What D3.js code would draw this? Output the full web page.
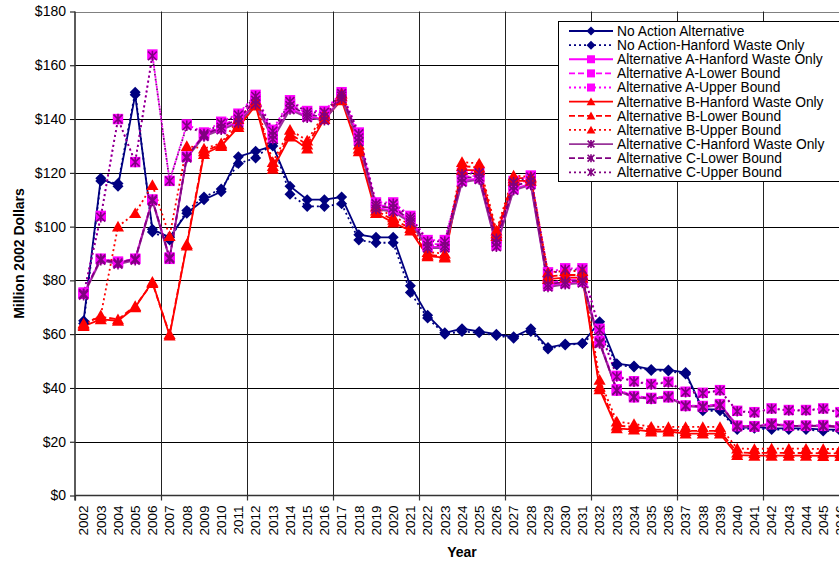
<!DOCTYPE html>
<html>
<head>
<meta charset="utf-8">
<script src="https://cdn.jsdelivr.net/npm/d3@7"></script>
<style>
  body { margin: 0; background: #fff; }
  svg text { font-family: Arial, "Liberation Sans", sans-serif; fill: #000; }
</style>
</head>
<body>
<svg id="chart" width="839" height="561"></svg>
<script>
// Annual cost by alternative, million 2002 dollars
const years = [2002, 2003, 2004, 2005, 2006, 2007, 2008, 2009, 2010, 2011,
  2012, 2013, 2014, 2015, 2016, 2017, 2018, 2019, 2020, 2021,
  2022, 2023, 2024, 2025, 2026, 2027, 2028, 2029, 2030, 2031,
  2032, 2033, 2034, 2035, 2036, 2037, 2038, 2039, 2040, 2041,
  2042, 2043, 2044, 2045, 2046];

const yTicks = [0, 20, 40, 60, 80, 100, 120, 140, 160, 180];

const noAction = [65, 118, 115, 149, 99, 96, 105, 110, 113, 126,
  128, 130, 115, 110, 110, 111, 97, 96, 96, 78,
  67, 60.5, 62, 61, 60, 59, 62, 55, 56.3, 56.6,
  64.6, 49, 48.2, 46.9, 46.7, 45.7, 32, 32, 25, 25.5,
  25, 25, 25, 24.5, 24.5];
const noActionHanford = [64, 117, 116, 150, 98, 95, 106, 111, 114, 123.5,
  125.5, 131, 112, 107.5, 107.5, 108.5, 95, 94, 94, 75.5,
  66, 60, 61, 60.5, 59.5, 58.5, 61, 54.5, 56, 56.5,
  62, 48.5, 47.8, 46.5, 46.3, 45.2, 31.5, 31.5, 24.5, 25,
  24.5, 24.5, 24.5, 24, 24];

const altAHanford = [75, 88, 86.5, 88, 110, 88.5, 126, 134, 136.5, 139,
  146, 133, 144, 141, 140, 148, 132, 107, 106, 102,
  92.5, 92.5, 117, 118, 93, 114, 116, 78, 79, 79.5,
  57, 39, 36.5, 36, 36.5, 33.3, 33, 33.7, 25.8, 25.6,
  26.5, 25.9, 25.9, 25.9, 25.5];
const altALower = [75.5, 88, 87, 88, 110, 88, 126, 134.5, 137.5, 140.5,
  147.5, 134.5, 145.5, 142, 141.5, 149, 133.5, 108, 107.5, 103,
  93.5, 93.5, 118.5, 119, 94.5, 115.5, 117.5, 79, 80, 80.5,
  57.5, 39.5, 37, 36.3, 37, 33.5, 33.3, 34, 26, 25.8,
  26.8, 26, 26, 26.2, 25.7];
const altAUpper = [75, 104, 140, 124, 164, 117, 138, 135, 139, 142,
  149, 136, 147, 143, 143, 150, 135, 109, 109, 104,
  95, 95, 120, 120.5, 96, 117, 119, 83, 84.5, 84.5,
  62, 44.5, 42.5, 41.5, 42.3, 38.6, 38.2, 39.2, 31.5, 31,
  32.4, 31.8, 31.8, 32.4, 31];

const altBHanford = [63, 65.5, 65, 70, 79.5, 59.5, 93, 127, 130, 137,
  145, 121.5, 133.5, 129, 140, 147, 128, 105, 101.5, 98.5,
  89, 88.5, 121, 121, 96.5, 117, 117, 80.5, 81, 81,
  39.5, 25, 24.5, 23.8, 23.8, 23, 23, 23, 15, 14.8,
  14.8, 14.8, 14.8, 14.7, 14.7];
const altBLower = [64, 66.5, 65.5, 70.5, 79, 60, 93.5, 128, 130.5, 138,
  146, 122.5, 134.5, 130.5, 141, 148.5, 129, 106, 102.5, 99.5,
  89.5, 89, 122.5, 122, 97.5, 118, 118, 81.5, 82, 82,
  40.5, 26, 25.5, 24.5, 24.5, 24, 24, 24, 16, 15.8,
  15.9, 15.8, 15.8, 15.7, 15.7];
const altBUpper = [63.5, 67, 100, 105, 115.5, 96.5, 130, 129, 131, 140,
  147, 124, 136, 132, 142, 149.5, 130.5, 107.5, 103.5, 101,
  90.5, 90, 124, 123.5, 98.5, 119, 118.5, 83, 83.5, 83.5,
  43, 27.5, 26.6, 25.6, 25.5, 25.5, 25.5, 25.5, 17.5, 17.3,
  17.5, 17.4, 17.4, 17.3, 17.3];

const altCHanford = [74.5, 87.5, 86, 87.5, 109.5, 88, 125.5, 133.5, 136, 138.5,
  145.5, 132.5, 143.5, 140.5, 139.5, 147.5, 131.5, 106.5, 105.5, 101.5,
  92, 92, 116.5, 117.5, 92.5, 113.5, 115.5, 77.5, 78.5, 79,
  56.5, 39, 36.5, 35.9, 36.5, 33.2, 32.8, 33.5, 25.6, 25.5,
  26.3, 25.8, 25.8, 25.7, 25.3];
const altCLower = [75, 88, 86.5, 88, 110, 88.5, 126, 134, 137, 140,
  147, 134, 145, 141.5, 141, 148.5, 133, 107.5, 107, 102.5,
  93, 93, 118, 118.5, 94, 115, 117, 78.5, 79.5, 80,
  57, 39.2, 36.7, 36.1, 36.7, 33.4, 33.1, 33.8, 25.9, 25.7,
  26.6, 25.9, 25.9, 26, 25.6];
const altCUpper = [75, 103.5, 140, 124, 163.5, 117, 137.5, 134.5, 138.5, 141.5,
  148.5, 135.5, 146.5, 142.5, 142.5, 149.5, 134.5, 108.5, 108.5, 103.5,
  94.5, 94.5, 119.5, 120, 95.5, 116.5, 118.5, 82.5, 84, 84,
  61.5, 44.2, 42.3, 41.3, 42, 38.4, 38, 39, 31.3, 30.8,
  32.2, 31.6, 31.6, 32.2, 30.8];

const DOT = "2,3", DASH = "6,3";
const series = [
  { name: "No Action Alternative", values: noAction, color: "#000080", dash: null, marker: "diamond", mcolor: "#000080" },
  { name: "No Action-Hanford Waste Only", values: noActionHanford, color: "#000080", dash: DOT, marker: "diamond", mcolor: "#000080" },
  { name: "Alternative A-Hanford Waste Only", values: altAHanford, color: "#FF00FF", dash: null, marker: "square", mcolor: "#FF00FF" },
  { name: "Alternative A-Lower Bound", values: altALower, color: "#FF00FF", dash: DASH, marker: "square", mcolor: "#FF00FF" },
  { name: "Alternative A-Upper Bound", values: altAUpper, color: "#FF00FF", dash: DOT, marker: "square", mcolor: "#FF00FF" },
  { name: "Alternative B-Hanford Waste Only", values: altBHanford, color: "#FF0000", dash: null, marker: "triangle", mcolor: "#FF0000" },
  { name: "Alternative B-Lower Bound", values: altBLower, color: "#FF0000", dash: DASH, marker: "triangle", mcolor: "#FF0000" },
  { name: "Alternative B-Upper Bound", values: altBUpper, color: "#FF0000", dash: DOT, marker: "triangle", mcolor: "#FF0000" },
  { name: "Alternative C-Hanford Waste Only", values: altCHanford, color: "#993399", dash: null, marker: "star", mcolor: "#800080" },
  { name: "Alternative C-Lower Bound", values: altCLower, color: "#800080", dash: DASH, marker: "star", mcolor: "#800080" },
  { name: "Alternative C-Upper Bound", values: altCUpper, color: "#800080", dash: DOT, marker: "star", mcolor: "#800080" }
];

const svg = d3.select("#chart");
const plot = { left: 75, right: 849, top: 11.5, bottom: 495.5 };

const x = d3.scaleBand().domain(years).range([plot.left, plot.right]).padding(0);
const y = d3.scaleLinear().domain([0, 180]).range([plot.bottom, plot.top]);
const cx = d => x(d) + x.bandwidth() / 2;

// gridlines
const grid = svg.append("g");
grid.selectAll("line.h").data(yTicks.filter(t => t > 0)).join("line")
  .attr("x1", plot.left).attr("x2", plot.right)
  .attr("y1", d => Math.round(y(d)) + 0.5).attr("y2", d => Math.round(y(d)) + 0.5)
  .attr("stroke", d => d === 180 ? "#808080" : "#000").attr("stroke-width", 1);
const boundaries = years.filter((d, i) => i > 0 && i % 5 === 0);
grid.selectAll("line.v").data(boundaries).join("line")
  .attr("x1", d => Math.round(x(d)) + 0.5).attr("x2", d => Math.round(x(d)) + 0.5)
  .attr("y1", plot.top).attr("y2", plot.bottom)
  .attr("stroke", "#222").attr("stroke-width", 1);

// y axis
const yAxis = svg.append("g").attr("transform", `translate(${plot.left},0)`)
  .call(d3.axisLeft(y).tickValues(yTicks).tickFormat(d => "$" + d).tickSize(5).tickPadding(4));
yAxis.select(".domain").remove();
yAxis.selectAll(".tick line").attr("stroke", "#000");
yAxis.selectAll("text").attr("font-size", 14).attr("fill", "#000");
svg.append("line").attr("x1", plot.left).attr("x2", plot.left)
  .attr("y1", plot.top).attr("y2", plot.bottom + 5)
  .attr("stroke", "#333").attr("stroke-width", 1.6);

// x axis
const xAxis = svg.append("g").attr("transform", `translate(0,${plot.bottom})`)
  .call(d3.axisBottom(x).tickSize(0));
xAxis.select(".domain").remove();
xAxis.selectAll("text")
  .attr("transform", "rotate(-90)")
  .attr("text-anchor", "end")
  .attr("x", -10).attr("y", 0).attr("dy", "0.36em")
  .attr("font-size", 13.5).attr("fill", "#000");
svg.append("line").attr("x1", plot.left).attr("x2", plot.right)
  .attr("y1", plot.bottom).attr("y2", plot.bottom)
  .attr("stroke", "#333").attr("stroke-width", 1.6);
svg.append("g").selectAll("line").data(years.filter((d, i) => i % 5 === 0)).join("line")
  .attr("x1", d => Math.round(x(d)) + 0.5).attr("x2", d => Math.round(x(d)) + 0.5)
  .attr("y1", plot.bottom).attr("y2", plot.bottom + 5)
  .attr("stroke", "#333").attr("stroke-width", 1.2);

// axis titles
svg.append("text").attr("transform", `translate(23.5,${(plot.top + plot.bottom) / 2}) rotate(-90)`)
  .attr("text-anchor", "middle").attr("font-size", 14).attr("font-weight", "bold")
  .text("Million 2002 Dollars");
svg.append("text").attr("x", (plot.left + plot.right) / 2).attr("y", 557)
  .attr("text-anchor", "middle").attr("font-size", 14).attr("font-weight", "bold")
  .text("Year");

// marker drawing
function drawMarker(g, type, color, s) {
  if (type === "diamond") {
    g.append("path").attr("d", `M0,${-s}L${s},0L0,${s}L${-s},0Z`).attr("fill", color);
  } else if (type === "square") {
    g.append("rect").attr("x", -s).attr("y", -s).attr("width", 2 * s).attr("height", 2 * s).attr("fill", color);
  } else if (type === "triangle") {
    g.append("path").attr("d", `M0,${-s * 1.05}L${s * 1.1},${s * 0.9}L${-s * 1.1},${s * 0.9}Z`).attr("fill", color);
  } else if (type === "star") {
    const k = s * 0.85;
    g.append("path").attr("d", `M${-k},${-k}L${k},${k}M${-k},${k}L${k},${-k}M0,${-s}L0,${s}`)
      .attr("stroke", color).attr("stroke-width", 1.6).attr("fill", "none");
  }
}

// series lines
const line = d3.line().x((d, i) => cx(years[i])).y(d => y(d));
const linesG = svg.append("g");
series.forEach(s => {
  linesG.append("path").datum(s.values)
    .attr("d", line).attr("fill", "none")
    .attr("stroke", s.color).attr("stroke-width", 1.8)
    .attr("stroke-dasharray", s.dash);
});

// series markers
const markersG = svg.append("g");
const plotSize = { diamond: 5.5, square: 5.2, triangle: 5.5, star: 5.2 };
series.forEach(s => {
  s.values.forEach((v, i) => {
    const g = markersG.append("g").attr("transform", `translate(${cx(years[i])},${y(v)})`);
    drawMarker(g, s.marker, s.mcolor, plotSize[s.marker]);
  });
});

// legend
const legend = svg.append("g");
legend.append("rect").attr("x", 558.5).attr("y", 21.5).attr("width", 300).attr("height", 160)
  .attr("fill", "#fff").attr("stroke", "#000").attr("stroke-width", 1);
series.forEach((s, i) => {
  const ly = 31 + i * 14.13;
  const row = legend.append("g").attr("transform", `translate(0,${ly})`);
  row.append("line").attr("x1", 569).attr("x2", 613).attr("y1", 0).attr("y2", 0)
    .attr("stroke", s.color).attr("stroke-width", 1.8).attr("stroke-dasharray", s.dash);
  const m = row.append("g").attr("transform", "translate(591,0)");
  drawMarker(m, s.marker, s.mcolor, s.marker === "diamond" ? 4.5 : 4);
  row.append("text").attr("x", 617).attr("y", 0).attr("dy", "0.36em")
    .attr("font-size", 13.8).text(s.name);
});
</script>
</body>
</html>
